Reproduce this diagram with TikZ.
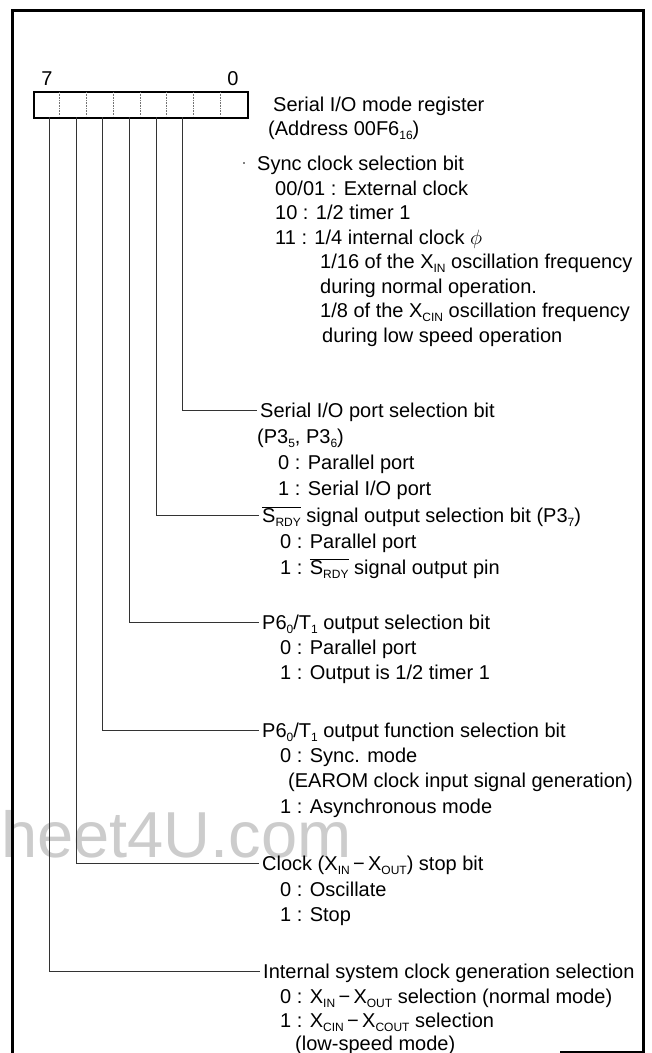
\documentclass[tikz,border=0pt]{standalone}
\usepackage{fontspec}
\setmainfont{Liberation Sans}
\newcommand\sbs[1]{\raisebox{-0.22em}{\fontsize{12}{12}\selectfont #1}}
\newcommand\srdy{$\overline{\mbox{S\sbs{RDY}}}$}
\begin{document}
\begin{tikzpicture}[x=1pt,y=-1pt,
  lbl/.style={anchor=west,inner sep=0pt,text height=14.3pt,text depth=0pt,font=\fontsize{20}{24}\selectfont},
  conn/.style={line width=0.8pt,black!80},
  framel/.style={line width=3pt},
  divider/.style={densely dotted,line width=0.6pt,black!55},
]
\useasboundingbox (0,0) rectangle (652,1053);
% watermark
\node[anchor=base west,inner sep=0pt,font=\fontsize{65}{65}\selectfont,text=black!20] (wm) at (1,857) {heet4U.com};
% frame
\draw[framel] (12,1053) -- (12,10) -- (643,10) -- (643,1053);
\draw[line width=1.5pt] (560,1052) -- (643,1052);
% register
\node[draw,line width=2pt,minimum width=214pt,minimum height=26pt,inner sep=0pt,anchor=north west] (reg) at (33,91) {};
\foreach \i in {1,...,7} \draw[divider] ({33+26.75*\i},92) -- ({33+26.75*\i},116);
\node[lbl,anchor=center] (n7) at (47,78) {7};
\node[lbl,anchor=center] (n0) at (233,78) {0};
% header texts
\node[lbl] (treg) at (273,104) {Serial I/O mode register};
\node[lbl] (taddr) at (268,128) {(Address 00F6\sbs{16})};
% sync clock
\fill (244,163) circle (0.9);
\node[lbl] (tsync) at (257,163) {Sync clock selection bit};
\node[lbl] (s1) at (275,188) {00/01 : External clock};
\node[lbl] (s2) at (275,212) {10 : 1/2 timer 1};
\node[lbl] (s3) at (275,237) {11 : 1/4 internal clock $\phi$};
\node[lbl] (s4) at (320,261) {1/16 of the X\sbs{IN} oscillation frequency};
\node[lbl] (s5) at (320,286) {during normal operation.};
\node[lbl] (s6) at (320,310) {1/8 of the X\sbs{CIN} oscillation frequency};
\node[lbl] (s7) at (322,335) {during low speed operation};
% serial I/O port
\node[lbl] (tsio) at (260,410) {Serial I/O port selection bit};
\node[lbl] (p1) at (257,436) {(P3\sbs{5}, P3\sbs{6})};
\node[lbl] (p2) at (278,462) {0 : Parallel port};
\node[lbl] (p3) at (278,488) {1 : Serial I/O port};
% srdy
\node[lbl] (tsrdy) at (262,515) {\srdy\ signal output selection bit (P3\sbs{7})};
\node[lbl] (r1) at (280,541) {0 : Parallel port};
\node[lbl] (r2) at (280,567) {1 : \srdy\ signal output pin};
% p6 sel
\node[lbl] (tp6s) at (262,622) {P6\sbs{0}/T\sbs{1} output selection bit};
\node[lbl] (q1) at (280,647) {0 : Parallel port};
\node[lbl] (q2) at (280,672) {1 : Output is 1/2 timer 1};
% p6 func
\node[lbl] (tp6f) at (262,730) {P6\sbs{0}/T\sbs{1} output function selection bit};
\node[lbl] (f1) at (280,755) {0 : Sync. mode};
\node[lbl] (f2) at (288,780) {(EAROM clock input signal generation)};
\node[lbl] (f3) at (280,806) {1 : Asynchronous mode};
% clock
\node[lbl] (tclk) at (262,863) {Clock (X\sbs{IN}\,−\,X\sbs{OUT}) stop bit};
\node[lbl] (c1) at (280,889) {0 : Oscillate};
\node[lbl] (c2) at (280,914) {1 : Stop};
% internal
\node[lbl] (tint) at (263,971) {Internal system clock generation selection};
\node[lbl] (i1) at (280,996) {0 : X\sbs{IN}\,−\,X\sbs{OUT} selection (normal mode)};
\node[lbl] (i2) at (280,1020) {1 : X\sbs{CIN}\,−\,X\sbs{COUT} selection};
\node[lbl] (i3) at (295,1043) {(low-speed mode)};
% bit coordinates
\coordinate (b7) at (49,117);
\coordinate (b6) at (76,117);
\coordinate (b5) at (102,117);
\coordinate (b4) at (129,117);
\coordinate (b3) at (156,117);
\coordinate (b2) at (182,117);
% connectors
\draw[conn] (b2) |- ([xshift=-3pt]tsio.west);
\draw[conn] (b3) |- ([xshift=-3pt]tsrdy.west);
\draw[conn] (b4) |- ([xshift=-3pt]tp6s.west);
\draw[conn] (b5) |- ([xshift=-3pt]tp6f.west);
\draw[conn] (b6) |- ([xshift=-3pt]tclk.west);
\draw[conn] (b7) |- ([xshift=-3pt]tint.west);
\end{tikzpicture}
\end{document}
